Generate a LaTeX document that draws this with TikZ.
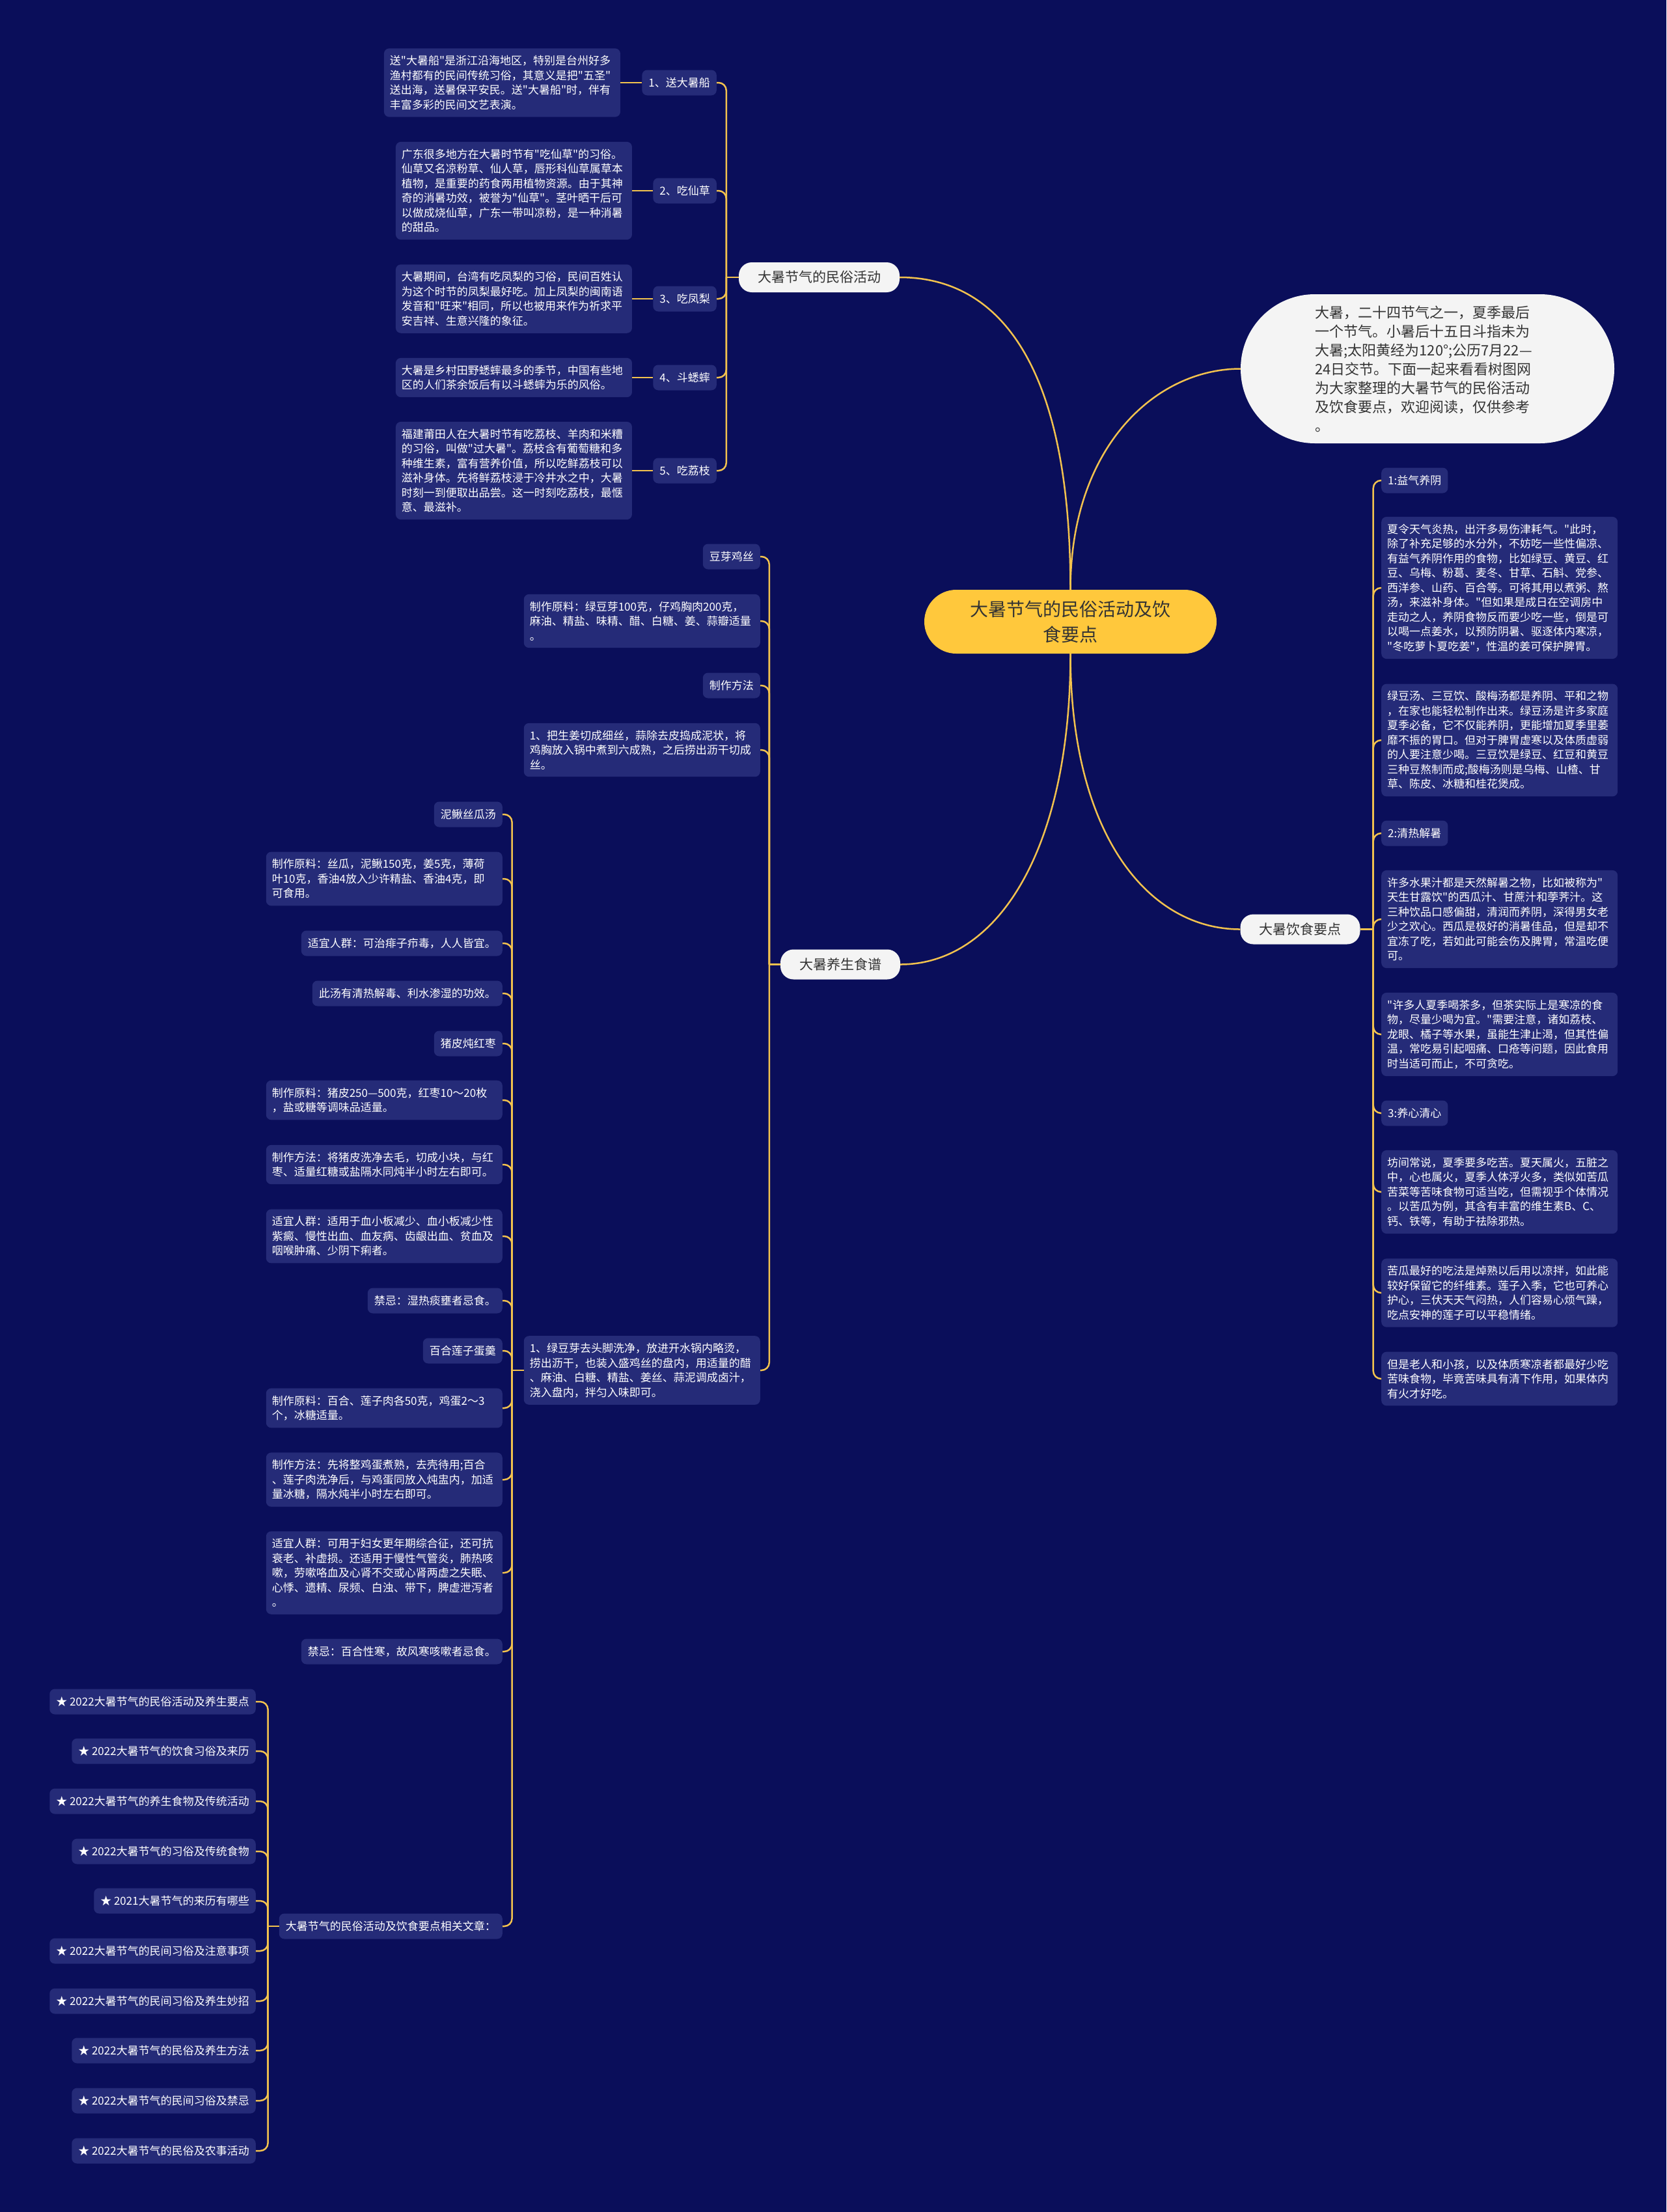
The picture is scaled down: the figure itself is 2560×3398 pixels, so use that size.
\documentclass[tikz,border=0pt]{standalone}
\usepackage{fontspec}
\setmainfont{Noto Sans CJK SC}
\newfontfamily\cjkf{Noto Sans CJK SC}
\usetikzlibrary{calc,positioning}
\definecolor{bgc}{HTML}{0A0E5A}
\definecolor{boxc}{HTML}{252B78}
\definecolor{lnk}{HTML}{F2C24E}
\definecolor{ctr}{HTML}{FFC83C}
\definecolor{dark}{HTML}{333333}
\definecolor{lite}{HTML}{F4F4F4}
\begin{document}
\begin{tikzpicture}[x=1pt,y=-1pt,
  link/.style={draw=lnk, line width=2.5pt},
  brk/.style={draw=lnk, line width=2.5pt, rounded corners=12pt},
  leaf/.style={fill=boxc, rounded corners=8pt, text=white, font=\cjkf\fontsize{17}{22.5}\selectfont, inner xsep=9pt, inner ysep=11pt, text width=345pt, align=left},
  lab/.style={fill=boxc, rounded corners=8pt, text=white, font=\cjkf\fontsize{17}{20}\selectfont, inner xsep=10pt, inner ysep=0pt, minimum height=39pt},
  lvl/.style={fill=lite, rounded corners=20pt, text=dark, font=\cjkf\fontsize{21}{24}\selectfont, inner xsep=29pt, inner ysep=0pt, minimum height=46pt},
  ctrnode/.style={fill=ctr, rounded corners=49pt, text=dark, font=\cjkf\fontsize{28}{39}\selectfont, align=center, minimum width=449pt, minimum height=98pt},
  intronode/.style={fill=lite, rounded corners=114pt, text=dark, font=\cjkf\fontsize{22}{29}\selectfont, text width=345pt, align=left, inner xsep=114.5pt, inner ysep=0pt, minimum height=229pt}
]
\useasboundingbox (0,0) rectangle (2560,3398);
\fill[bgc] (0,0) rectangle (2560,3398);

% center and level 1
\node[ctrnode] (c) at (1644.5,955) {大暑节气的民俗活动及饮\\食要点};
\node[intronode] (intro) at (2193,566.5) {大暑，二十四节气之一，夏季最后\\一个节气。小暑后十五日斗指未为\\大暑;太阳黄经为120°;公历7月22—\\24日交节。下面一起来看看树图网\\为大家整理的大暑节气的民俗活动\\及饮食要点，欢迎阅读，仅供参考\\。};
\node[lvl] (m) at (1258.5,426) {大暑节气的民俗活动};
\node[lvl] (y) at (1291,1481.5) {大暑养生食谱};
\node[lvl] (r) at (1997.5,1427.5) {大暑饮食要点};

\draw[link] (c.north) .. controls +(0,-350) and +(150,0) .. (m.east);
\draw[link] (c.north) .. controls +(0,-220) and +(-130,0) .. (intro.west);
\draw[link] (c.south) .. controls +(0,280) and +(-140,0) .. (r.west);
\draw[link] (c.south) .. controls +(0,300) and +(150,0) .. (y.east);

% folk activities
\node[lab, anchor=east] (ms1) at (1101,127) {1、送大暑船};
\node[lab, anchor=east] (ms2) at (1101,293) {2、吃仙草};
\node[lab, anchor=east] (ms3) at (1101,459) {3、吃凤梨};
\node[lab, anchor=east] (ms4) at (1101,580) {4、斗蟋蟀};
\node[lab, anchor=east] (ms5) at (1101,723) {5、吃荔枝};
\node[leaf, left=33pt of ms1] (ml1) {送"大暑船"是浙江沿海地区，特别是台州好多\\渔村都有的民间传统习俗，其意义是把"五圣"\\送出海，送暑保平安民。送"大暑船"时，伴有\\丰富多彩的民间文艺表演。};
\node[leaf, left=32pt of ms2] (ml2) {广东很多地方在大暑时节有"吃仙草"的习俗。\\仙草又名凉粉草、仙人草，唇形科仙草属草本\\植物，是重要的药食两用植物资源。由于其神\\奇的消暑功效，被誉为"仙草"。茎叶晒干后可\\以做成烧仙草，广东一带叫凉粉，是一种消暑\\的甜品。};
\node[leaf, left=32pt of ms3] (ml3) {大暑期间，台湾有吃凤梨的习俗，民间百姓认\\为这个时节的凤梨最好吃。加上凤梨的闽南语\\发音和"旺来"相同，所以也被用来作为祈求平\\安吉祥、生意兴隆的象征。};
\node[leaf, left=32pt of ms4] (ml4) {大暑是乡村田野蟋蟀最多的季节，中国有些地\\区的人们茶余饭后有以斗蟋蟀为乐的风俗。};
\node[leaf, left=32pt of ms5] (ml5) {福建莆田人在大暑时节有吃荔枝、羊肉和米糟\\的习俗，叫做"过大暑"。荔枝含有葡萄糖和多\\种维生素，富有营养价值，所以吃鲜荔枝可以\\滋补身体。先将鲜荔枝浸于冷井水之中，大暑\\时刻一到便取出品尝。这一时刻吃荔枝，最惬\\意、最滋补。};
\coordinate (jm) at ($(m.west)+(-19,0)$);
\draw[link] (m.west) -- (jm);
\foreach \n in {ms1,ms2,ms3,ms4,ms5} \draw[brk] (jm) -- (jm |- \n.east) -- (\n.east);
\foreach \i in {1,...,5} \draw[link] (ml\i.east) -- (ms\i.west);

% diet points (right)
\node[lab, anchor=west] (r1) at (2122,738) {1:益气养阴};
\node[leaf, anchor=west] (ra) at (2122,903) {夏令天气炎热，出汗多易伤津耗气。"此时，\\除了补充足够的水分外，不妨吃一些性偏凉、\\有益气养阴作用的食物，比如绿豆、黄豆、红\\豆、乌梅、粉葛、麦冬、甘草、石斛、党参、\\西洋参、山药、百合等。可将其用以煮粥、熬\\汤，来滋补身体。"但如果是成日在空调房中\\走动之人，养阴食物反而要少吃一些，倒是可\\以喝一点姜水，以预防阴暑、驱逐体内寒凉，\\"冬吃萝卜夏吃姜"，性温的姜可保护脾胃。};
\node[leaf, anchor=west] (rb) at (2122,1137) {绿豆汤、三豆饮、酸梅汤都是养阴、平和之物\\，在家也能轻松制作出来。绿豆汤是许多家庭\\夏季必备，它不仅能养阴，更能增加夏季里萎\\靡不振的胃口。但对于脾胃虚寒以及体质虚弱\\的人要注意少喝。三豆饮是绿豆、红豆和黄豆\\三种豆熬制而成;酸梅汤则是乌梅、山楂、甘\\草、陈皮、冰糖和桂花煲成。};
\node[lab, anchor=west] (r2) at (2122,1280) {2:清热解暑};
\node[leaf, anchor=west] (rc) at (2122,1412) {许多水果汁都是天然解暑之物，比如被称为"\\天生甘露饮"的西瓜汁、甘蔗汁和荸荠汁。这\\三种饮品口感偏甜，清润而养阴，深得男女老\\少之欢心。西瓜是极好的消暑佳品，但是却不\\宜冻了吃，若如此可能会伤及脾胃，常温吃便\\可。};
\node[leaf, anchor=west] (rd) at (2122,1589) {"许多人夏季喝茶多，但茶实际上是寒凉的食\\物，尽量少喝为宜。"需要注意，诸如荔枝、\\龙眼、橘子等水果，虽能生津止渴，但其性偏\\温，常吃易引起咽痛、口疮等问题，因此食用\\时当适可而止，不可贪吃。};
\node[lab, anchor=west] (r3) at (2122,1710) {3:养心清心};
\node[leaf, anchor=west] (re) at (2122,1831) {坊间常说，夏季要多吃苦。夏天属火，五脏之\\中，心也属火，夏季人体浮火多，类似如苦瓜\\苦菜等苦味食物可适当吃，但需视乎个体情况\\。以苦瓜为例，其含有丰富的维生素B、C、\\钙、铁等，有助于祛除邪热。};
\node[leaf, anchor=west] (rf) at (2122,1986) {苦瓜最好的吃法是焯熟以后用以凉拌，如此能\\较好保留它的纤维素。莲子入季，它也可养心\\护心，三伏天天气闷热，人们容易心烦气躁，\\吃点安神的莲子可以平稳情绪。};
\node[leaf, anchor=west] (rg) at (2122,2118) {但是老人和小孩，以及体质寒凉者都最好少吃\\苦味食物，毕竟苦味具有清下作用，如果体内\\有火才好吃。};
\coordinate (jr) at ($(r.east)+(20,0)$);
\draw[link] (r.east) -- (jr);
\foreach \n in {r1,ra,rb,r2,rc,rd,r3,re,rf,rg} \draw[brk] (jr) -- (jr |- \n.west) -- (\n.west);

% recipes (middle)
\node[lab, anchor=east] (y1) at (1168,855) {豆芽鸡丝};
\node[leaf, anchor=east] (y2) at (1168,954) {制作原料：绿豆芽100克，仔鸡胸肉200克，\\麻油、精盐、味精、醋、白糖、姜、蒜瓣适量\\。};
\node[lab, anchor=east] (y3) at (1168,1053) {制作方法};
\node[leaf, anchor=east] (y4) at (1168,1152) {1、把生姜切成细丝，蒜除去皮捣成泥状，将\\鸡胸放入锅中煮到六成熟，之后捞出沥干切成\\丝。};
\node[leaf, anchor=east] (y5) at (1168,2105) {1、绿豆芽去头脚洗净，放进开水锅内略烫，\\捞出沥干，也装入盛鸡丝的盘内，用适量的醋\\、麻油、白糖、精盐、姜丝、蒜泥调成卤汁，\\浇入盘内，拌匀入味即可。};
\coordinate (jy) at ($(y.west)+(-17,0)$);
\draw[link] (y.west) -- (jy);
\foreach \n in {y1,y2,y3,y4,y5} \draw[brk] (jy) -- (jy |- \n.east) -- (\n.east);

% column 2
\node[lab, anchor=east] (g1) at (772,1251) {泥鳅丝瓜汤};
\node[leaf, anchor=east] (g2) at (772,1350) {制作原料：丝瓜，泥鳅150克，姜5克，薄荷\\叶10克，香油4放入少许精盐、香油4克，即\\可食用。};
\node[lab, anchor=east] (g3) at (772,1449) {适宜人群：可治痱子疖毒，人人皆宜。};
\node[lab, anchor=east] (g4) at (772,1526) {此汤有清热解毒、利水渗湿的功效。};
\node[lab, anchor=east] (g5) at (772,1603) {猪皮炖红枣};
\node[leaf, anchor=east] (g6) at (772,1690) {制作原料：猪皮250—500克，红枣10～20枚\\，盐或糖等调味品适量。};
\node[leaf, anchor=east] (g7) at (772,1789) {制作方法：将猪皮洗净去毛，切成小块，与红\\枣、适量红糖或盐隔水同炖半小时左右即可。};
\node[leaf, anchor=east] (g8) at (772,1899) {适宜人群：适用于血小板减少、血小板减少性\\紫癜、慢性出血、血友病、齿龈出血、贫血及\\咽喉肿痛、少阴下痢者。};
\node[lab, anchor=east] (g9) at (772,1998) {禁忌：湿热痰壅者忌食。};
\node[lab, anchor=east] (g10) at (772,2075) {百合莲子蛋羹};
\node[leaf, anchor=east] (g11) at (772,2163) {制作原料：百合、莲子肉各50克，鸡蛋2～3\\个，冰糖适量。};
\node[leaf, anchor=east] (g12) at (772,2273) {制作方法：先将整鸡蛋煮熟，去壳待用;百合\\、莲子肉洗净后，与鸡蛋同放入炖盅内，加适\\量冰糖，隔水炖半小时左右即可。};
\node[leaf, anchor=east] (g13) at (772,2416) {适宜人群：可用于妇女更年期综合征，还可抗\\衰老、补虚损。还适用于慢性气管炎，肺热咳\\嗽，劳嗽咯血及心肾不交或心肾两虚之失眠、\\心悸、遗精、尿频、白浊、带下，脾虚泄泻者\\。};
\node[lab, anchor=east] (g14) at (772,2537) {禁忌：百合性寒，故风寒咳嗽者忌食。};
\node[lab, anchor=east] (g15) at (772,2959) {大暑节气的民俗活动及饮食要点相关文章：};
\coordinate (jg) at ($(y5.west)+(-18,0)$);
\draw[link] (y5.west) -- (jg);
\foreach \n in {g1,g2,g3,g4,g5,g6,g7,g8,g9,g10,g11,g12,g13,g14,g15} \draw[brk] (jg) -- (jg |- \n.east) -- (\n.east);

% column 3
\node[lab, anchor=east] (k1) at (393,2614) {★ 2022大暑节气的民俗活动及养生要点};
\node[lab, anchor=east] (k2) at (393,2690) {★ 2022大暑节气的饮食习俗及来历};
\node[lab, anchor=east] (k3) at (393,2767) {★ 2022大暑节气的养生食物及传统活动};
\node[lab, anchor=east] (k4) at (393,2844) {★ 2022大暑节气的习俗及传统食物};
\node[lab, anchor=east] (k5) at (393,2920) {★ 2021大暑节气的来历有哪些};
\node[lab, anchor=east] (k6) at (393,2997) {★ 2022大暑节气的民间习俗及注意事项};
\node[lab, anchor=east] (k7) at (393,3074) {★ 2022大暑节气的民间习俗及养生妙招};
\node[lab, anchor=east] (k8) at (393,3150) {★ 2022大暑节气的民俗及养生方法};
\node[lab, anchor=east] (k9) at (393,3227) {★ 2022大暑节气的民间习俗及禁忌};
\node[lab, anchor=east] (k10) at (393,3304) {★ 2022大暑节气的民俗及农事活动};
\coordinate (jk) at ($(g15.west)+(-17,0)$);
\draw[link] (g15.west) -- (jk);
\foreach \n in {k1,k2,k3,k4,k5,k6,k7,k8,k9,k10} \draw[brk] (jk) -- (jk |- \n.east) -- (\n.east);
\end{tikzpicture}
\end{document}
